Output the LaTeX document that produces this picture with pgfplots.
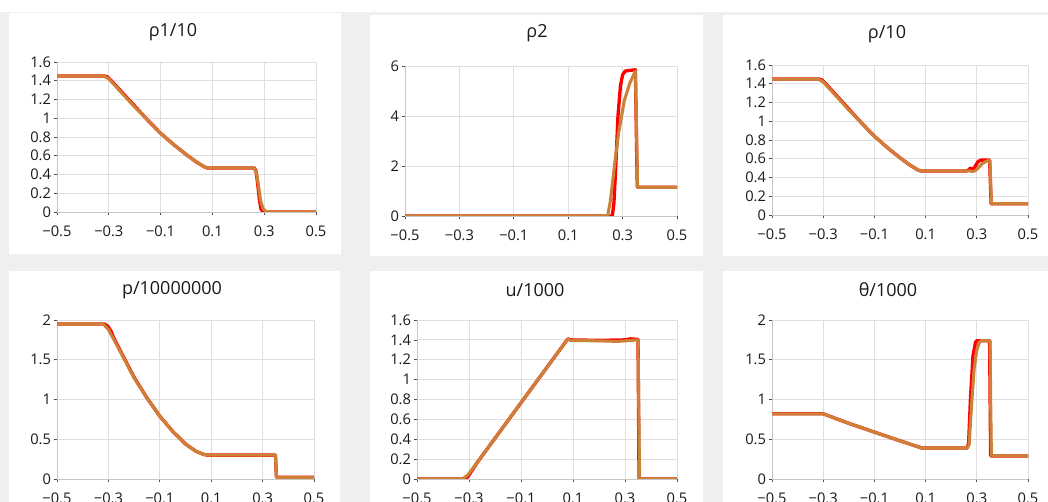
\documentclass[border=0pt]{standalone}
\usepackage{pgfplots}
\pgfplotsset{compat=1.18}
\usepackage{fontspec}
\setmainfont{Open Sans}
\definecolor{bggray}{RGB}{239,239,239}
\definecolor{orng}{RGB}{205,128,55}
\definecolor{txt}{RGB}{25,25,30}
\pgfplotsset{
  panel/.style={
    scale only axis,
    axis lines=left,
    axis line style={draw=gray!45,-},
    grid=major,
    major grid style={draw=gray!25,line width=0.6pt},
    xmin=-0.5,xmax=0.5,
    xtick={-0.5,-0.3,-0.1,0.1,0.3,0.5},
    xticklabels={−0.5,−0.3,−0.1,0.1,0.3,0.5},
    tick style={draw=black!70,line width=0.5pt},
    major tick length=2.5pt,
    tick align=outside,
    ticklabel style={font=\fontsize{11}{12}\selectfont,text=txt},
    xticklabel style={yshift=-4pt},
    yticklabel style={xshift=1.5pt},
    every axis plot/.append style={no markers,line join=round},
    anchor=south west,
  },
  redl/.style={draw=red,line width=2.5pt},
  orl/.style={draw=orng,line width=2.3pt},
}
\begin{document}
\begin{tikzpicture}
\path[use as bounding box] (0pt,0pt) rectangle (786pt,376.5pt);
\clip (0pt,0pt) rectangle (786pt,376.5pt);
\begin{scope}[yshift=376.5pt,x=0.75pt,y=-0.75pt]
\fill[bggray] (0,0) rectangle (1048,502);
\fill[white] (0,0) rectangle (1048,12);
\fill[white] (9,13) rectangle (341,254);
\fill[white] (370,15) rectangle (703,256);
\fill[white] (723,15) rectangle (1048,256);
\fill[white] (9,271) rectangle (340,502);
\fill[white] (370,271) rectangle (703,502);
\fill[white] (723,271) rectangle (1048,502);
\node[font=\fontsize{13.5}{15}\selectfont,text=txt] at (173,32) {ρ1/10};
\node[font=\fontsize{13.5}{15}\selectfont,text=txt] at (537,33) {ρ2};
\node[font=\fontsize{13.5}{15}\selectfont,text=txt] at (887,34) {ρ/10};
\node[font=\fontsize{13.5}{15}\selectfont,text=txt] at (172,290) {p/10000000};
\node[font=\fontsize{13.5}{15}\selectfont,text=txt] at (535,290) {u/1000};
\node[font=\fontsize{13.5}{15}\selectfont,text=txt] at (888,290) {θ/1000};
\end{scope}

% Panel 1
\begin{axis}[panel,at={(42.75pt,217.5pt)},width=194.25pt,height=112.5pt,
  ymin=0,ymax=1.6,ytick={0,0.2,...,1.6},yticklabels={0,0.2,0.4,0.6,0.8,1,1.2,1.4,1.6}]
\addplot[redl] coordinates {(-0.5,1.45) (-0.315,1.45) (-0.305,1.44) (-0.29,1.40) (-0.25,1.28) (-0.2,1.13) (-0.15,0.98) (-0.1,0.84) (-0.05,0.72) (0,0.61) (0.04,0.53) (0.07,0.48) (0.08,0.47) (0.262,0.47) (0.268,0.44) (0.275,0.30) (0.282,0.12) (0.288,0.03) (0.295,0.005) (0.31,0) (0.5,0)};
\addplot[orl] coordinates {(-0.5,1.45) (-0.32,1.45) (-0.30,1.42) (-0.29,1.39) (-0.25,1.27) (-0.2,1.12) (-0.15,0.98) (-0.1,0.84) (-0.05,0.72) (0,0.61) (0.04,0.53) (0.07,0.48) (0.08,0.47) (0.26,0.47) (0.27,0.42) (0.278,0.28) (0.286,0.12) (0.295,0.04) (0.305,0.01) (0.32,0) (0.5,0)};
\end{axis}

% Panel 2
\begin{axis}[panel,at={(303.75pt,214.5pt)},width=204pt,height=112.5pt,
  ymin=0,ymax=6,ytick={0,2,4,6},yticklabels={0,2,4,6}]
\addplot[redl] coordinates {(-0.5,0) (0.262,0) (0.268,0.5) (0.275,2.0) (0.283,4.0) (0.292,5.2) (0.30,5.65) (0.31,5.8) (0.347,5.85) (0.351,3) (0.354,1.15) (0.5,1.15)};
\addplot[orl] coordinates {(-0.5,0) (0.245,0) (0.255,0.6) (0.27,2.0) (0.285,3.3) (0.306,4.6) (0.326,5.3) (0.347,5.8) (0.352,3) (0.355,1.15) (0.5,1.15)};
\end{axis}

% Panel 3
\begin{axis}[panel,at={(579pt,215.25pt)},width=192pt,height=112.5pt,
  ymin=0,ymax=1.6,ytick={0,0.2,...,1.6},yticklabels={0,0.2,0.4,0.6,0.8,1,1.2,1.4,1.6}]
\addplot[redl] coordinates {(-0.5,1.45) (-0.315,1.45) (-0.305,1.44) (-0.29,1.40) (-0.25,1.28) (-0.2,1.13) (-0.15,0.98) (-0.1,0.84) (-0.05,0.72) (0,0.61) (0.04,0.53) (0.07,0.48) (0.08,0.47) (0.26,0.47) (0.268,0.48) (0.275,0.50) (0.282,0.49) (0.288,0.49) (0.296,0.53) (0.305,0.57) (0.315,0.585) (0.35,0.585) (0.353,0.35) (0.356,0.12) (0.5,0.12)};
\addplot[orl] coordinates {(-0.5,1.45) (-0.32,1.45) (-0.30,1.42) (-0.29,1.39) (-0.25,1.27) (-0.2,1.12) (-0.15,0.98) (-0.1,0.84) (-0.05,0.72) (0,0.61) (0.04,0.53) (0.07,0.48) (0.08,0.47) (0.27,0.47) (0.283,0.465) (0.293,0.47) (0.305,0.50) (0.32,0.545) (0.335,0.57) (0.345,0.58) (0.351,0.58) (0.354,0.35) (0.357,0.12) (0.5,0.12)};
\end{axis}

% Panel 4
\begin{axis}[panel,at={(42.75pt,17.25pt)},width=192.75pt,height=119.25pt,
  ymin=0,ymax=2,ytick={0,0.5,1,1.5,2},yticklabels={0,0.5,1,1.5,2}]
\addplot[redl] coordinates {(-0.5,1.95) (-0.315,1.95) (-0.302,1.92) (-0.29,1.86) (-0.28,1.78) (-0.25,1.59) (-0.2,1.28) (-0.15,1.02) (-0.1,0.79) (-0.05,0.60) (0,0.44) (0.04,0.35) (0.07,0.31) (0.085,0.30) (0.35,0.30) (0.352,0.15) (0.354,0.02) (0.5,0.02)};
\addplot[orl] coordinates {(-0.5,1.95) (-0.32,1.95) (-0.30,1.88) (-0.28,1.76) (-0.25,1.58) (-0.2,1.27) (-0.15,1.02) (-0.1,0.79) (-0.05,0.60) (0,0.44) (0.04,0.35) (0.07,0.31) (0.085,0.30) (0.35,0.30) (0.352,0.15) (0.354,0.02) (0.5,0.02)};
\end{axis}

% Panel 5
\begin{axis}[panel,at={(312.75pt,17.25pt)},width=195pt,height=119.25pt,
  ymin=0,ymax=1.6,ytick={0,0.2,...,1.6},yticklabels={0,0.2,0.4,0.6,0.8,1,1.2,1.4,1.6}]
\addplot[redl] coordinates {(-0.5,0) (-0.32,0) (-0.305,0.02) (-0.295,0.06) (-0.28,0.12) (-0.27,0.16) (0.08,1.41) (0.09,1.40) (0.2,1.395) (0.3,1.40) (0.32,1.41) (0.35,1.405) (0.352,0.7) (0.354,0) (0.5,0)};
\addplot[orl] coordinates {(-0.5,0) (-0.335,0) (-0.32,0.01) (-0.305,0.04) (-0.29,0.09) (-0.27,0.16) (0.08,1.41) (0.09,1.395) (0.2,1.39) (0.27,1.385) (0.3,1.39) (0.35,1.40) (0.353,0.7) (0.356,0) (0.5,0)};
\end{axis}

% Panel 6
\begin{axis}[panel,at={(579pt,17.25pt)},width=192pt,height=119.25pt,
  ymin=0,ymax=2,ytick={0,0.5,1,1.5,2},yticklabels={0,0.5,1,1.5,2}]
\addplot[redl] coordinates {(-0.5,0.82) (-0.3,0.82) (-0.2,0.70) (-0.1,0.59) (0,0.48) (0.085,0.39) (0.262,0.39) (0.268,0.45) (0.275,1.0) (0.285,1.55) (0.295,1.72) (0.30,1.74) (0.35,1.74) (0.352,1.0) (0.354,0.29) (0.5,0.29)};
\addplot[orl] coordinates {(-0.5,0.82) (-0.3,0.82) (-0.2,0.70) (-0.1,0.59) (0,0.48) (0.085,0.39) (0.262,0.39) (0.27,0.43) (0.275,0.7) (0.281,1.0) (0.29,1.4) (0.30,1.62) (0.31,1.72) (0.318,1.74) (0.352,1.74) (0.354,1.0) (0.357,0.29) (0.5,0.29)};
\end{axis}
\end{tikzpicture}
\end{document}
